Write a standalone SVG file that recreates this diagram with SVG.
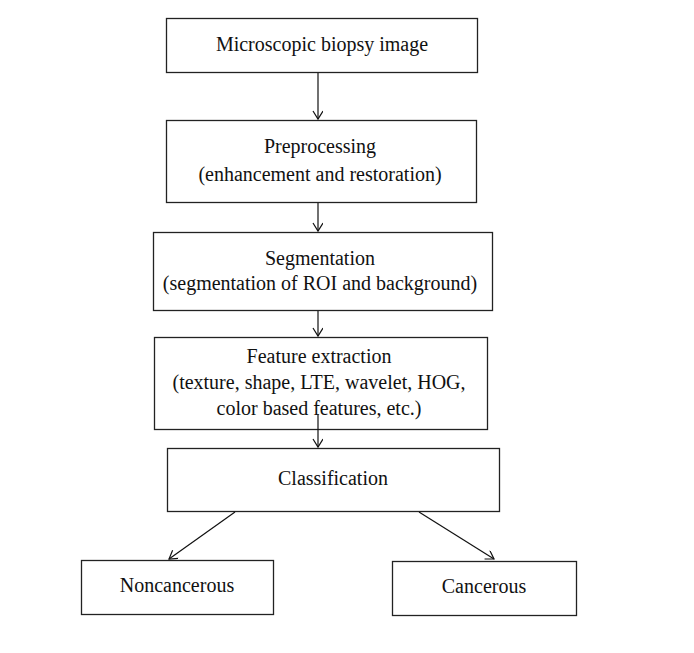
<svg xmlns="http://www.w3.org/2000/svg" width="694" height="653" viewBox="0 0 694 653">
<defs>
<style>
.box{fill:#fff;stroke:#222;stroke-width:1.3}
.t{font-family:"Liberation Serif","Times New Roman",serif;font-size:20px;fill:#111;text-anchor:middle}
.c{stroke:#111;stroke-width:1.2;fill:none;marker-end:url(#ah)}
</style>
<marker id="ah" markerWidth="12" markerHeight="12" refX="10" refY="5" orient="auto" markerUnits="userSpaceOnUse">
<polyline points="2,0 10,5 2,10" fill="none" stroke="#111" stroke-width="1.2"/>
</marker>
</defs>
<rect width="694" height="653" fill="#fff"/>
<g id="n1"><rect class="box" x="166.5" y="18.5" width="311" height="54"/><text class="t" x="322" y="51">Microscopic biopsy image</text></g>
<g id="n2"><rect class="box" x="166.5" y="120.5" width="310" height="82"/><text class="t" x="320" y="153">Preprocessing</text><text class="t" x="320" y="181">(enhancement and restoration)</text></g>
<g id="n3"><rect class="box" x="153.5" y="232.5" width="339" height="78"/><text class="t" x="320" y="265">Segmentation</text><text class="t" x="320" y="290">(segmentation of ROI and background)</text></g>
<g id="n4"><rect class="box" x="154.5" y="337.5" width="333" height="92"/><text class="t" x="319" y="363">Feature extraction</text><text class="t" x="319" y="389">(texture, shape, LTE, wavelet, HOG,</text><text class="t" x="319" y="415">color based features, etc.)</text></g>
<g id="n5"><rect class="box" x="167.5" y="448.5" width="332" height="63"/><text class="t" x="333" y="485">Classification</text></g>
<g id="n6"><rect class="box" x="81.5" y="560.5" width="192" height="54"/><text class="t" x="177" y="592">Noncancerous</text></g>
<g id="n7"><rect class="box" x="392.5" y="561.5" width="184" height="54"/><text class="t" x="484" y="593">Cancerous</text></g>
<g id="connectors">
<line class="c" x1="318" y1="73" x2="318" y2="119"/>
<line class="c" x1="318" y1="203" x2="318" y2="231"/>
<line class="c" x1="318" y1="311" x2="318" y2="336"/>
<line class="c" x1="318" y1="414" x2="318" y2="447"/>
<line class="c" x1="235" y1="512" x2="169" y2="559"/>
<line class="c" x1="419" y1="512" x2="494" y2="559"/>
</g>
</svg>
